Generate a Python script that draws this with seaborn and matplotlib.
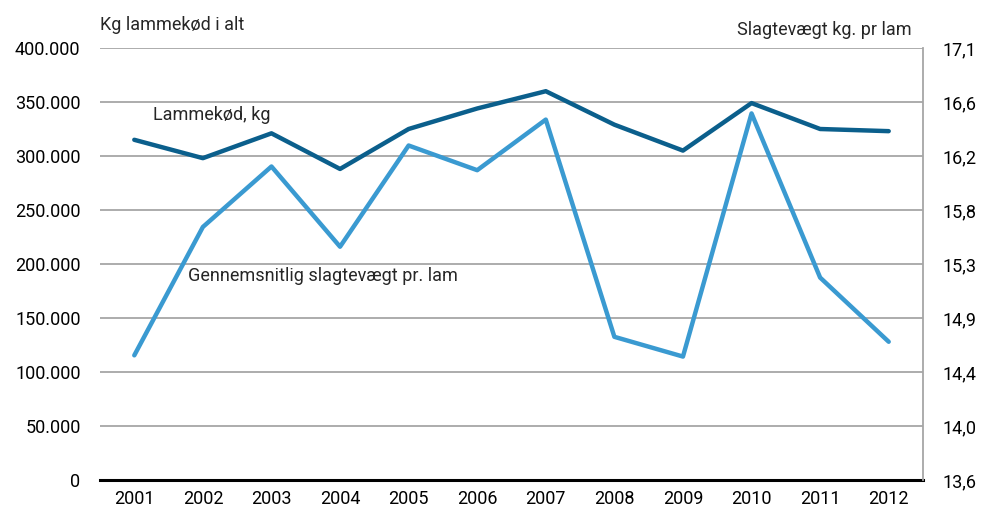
import matplotlib
matplotlib.use("Agg")
import matplotlib.pyplot as plt
import seaborn as sns
import pandas as pd
import numpy as np

years = ["2001", "2002", "2003", "2004", "2005", "2006", "2007", "2008", "2009", "2010", "2011", "2012"]
lammekod_kg = [315000, 298000, 321000, 288000, 325000, 344000, 360000, 329000, 305000, 349000, 325000, 323000]
slagtevaegt = [14.61, 15.65, 16.14, 15.49, 16.31, 16.11, 16.52, 14.76, 14.60, 16.57, 15.24, 14.72]
left_ticks = [0, 50000, 100000, 150000, 200000, 250000, 300000, 350000, 400000]
left_labels = ["0", "50.000", "100.000", "150.000", "200.000", "250.000", "300.000", "350.000", "400.000"]
right_labels = ["13,6", "14,0", "14,4", "14,9", "15,3", "15,8", "16,2", "16,6", "17,1"]

sns.set_style("white")
plt.rcParams["font.family"] = ["Roboto", "DejaVu Sans"]

dark = "#0b5f8c"
light = "#3a9ad1"
grid = "#a6a6a6"
fs = 13

df = pd.DataFrame({"x": np.arange(len(years)), "kg": lammekod_kg, "w": slagtevaegt})

fig = plt.figure(figsize=(9.83, 5.16), dpi=100)
ax = fig.add_axes([100/983, 36/516, 823/983, 432/516])
ax2 = ax.twinx()

sns.lineplot(data=df, x="x", y="kg", ax=ax, color=dark, lw=3.2, zorder=3)
sns.lineplot(data=df, x="x", y="w", ax=ax2, color=light, lw=3.2, zorder=3)

ax.set_xlim(-0.5, len(years) - 0.5)
ax.set_ylim(0, 400000)
ax.set_yticks(left_ticks)
ax.set_yticklabels(left_labels)
ax.set_xticks(np.arange(len(years)))
ax.set_xticklabels(years)
ax.set_xlabel("")
ax.set_ylabel("")
for y in left_ticks[1:]:
    ax.axhline(y, color=grid, lw=1.3, zorder=1)

r0, r1 = 13.6, 17.1
ax2.set_ylim(r0, r1)
ax2.set_yticks(np.linspace(r0, r1, len(right_labels)))
ax2.set_yticklabels(right_labels)
ax2.set_ylabel("")

for a in (ax, ax2):
    a.tick_params(axis="both", length=0, labelsize=fs, colors="black")
    for s in a.spines.values():
        s.set_visible(False)
ax.tick_params(axis="y", pad=14)
ax.tick_params(axis="x", pad=7)
ax2.tick_params(axis="y", pad=14)
ax2.spines["right"].set_visible(True)
ax2.spines["right"].set_color(grid)
ax2.spines["right"].set_linewidth(1.3)
ax.spines["bottom"].set_visible(True)
ax.spines["bottom"].set_color("black")
ax.spines["bottom"].set_linewidth(2.2)
ax.spines["bottom"].set_zorder(5)

fig.text(100/983, 1 - 25/516, "Kg lammekød i alt", fontsize=fs, va="center", ha="left")
fig.text(912/983, 1 - 30/516, "Slagtevægt kg. pr lam", fontsize=fs, va="center", ha="right")
ax.text(0.28, 338000, "Lammekød, kg", fontsize=fs, va="center", ha="left")
ax.text(0.78, 189000, "Gennemsnitlig slagtevægt pr. lam", fontsize=fs, va="center", ha="left")

fig.savefig("out.png", dpi=100)
